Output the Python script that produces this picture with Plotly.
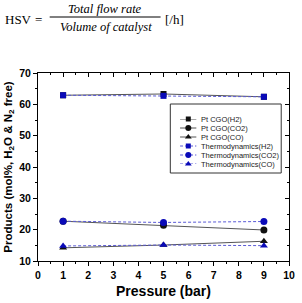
import plotly.graph_objects as go

# ---- data ----
pressure = [1, 5, 9]
pt_h2 = [62.9, 63.3, 62.4]
pt_co2 = [22.7, 21.4, 19.9]
pt_co = [14.2, 15.1, 16.3]
th_h2 = [62.9, 62.7, 62.4]
th_co2 = [22.7, 22.3, 22.6]
th_co = [14.8, 15.1, 14.9]

series_names = ["Pt CGO(H2)", "Pt CGO(CO2)", "Pt CGO(CO)",
                "Thermodynamics(H2)", "Thermodynamics(CO2)", "Thermodynamics(CO)"]
x_ticks = list(range(0, 11))
y_ticks = list(range(10, 71, 10))

W, H = 302, 303
ML, MR, MT, MB = 37, 7, 73, 42
PW, PH = W - ML - MR, H - MT - MB

def px(x):
    return (x - ML) / PW

def py(y):
    return (H - MB - y) / PH

PT_LINE = "#555555"
PT_MARK = "#111111"
TH_LINE = "#5a5ad6"
TH_MARK = "#0a0ab8"

styles = [
    dict(line=dict(color=PT_LINE, width=1), marker=dict(symbol="square", size=6, color=PT_MARK)),
    dict(line=dict(color=PT_LINE, width=1), marker=dict(symbol="circle", size=7, color=PT_MARK)),
    dict(line=dict(color=PT_LINE, width=1), marker=dict(symbol="triangle-up", size=7, color=PT_MARK)),
    dict(line=dict(color=TH_LINE, width=1, dash="3px,2px"), marker=dict(symbol="square", size=6, color=TH_MARK)),
    dict(line=dict(color=TH_LINE, width=1, dash="3px,2px"), marker=dict(symbol="circle", size=7, color=TH_MARK)),
    dict(line=dict(color=TH_LINE, width=1, dash="3px,2px"), marker=dict(symbol="triangle-up", size=7, color=TH_MARK)),
]
values = [pt_h2, pt_co2, pt_co, th_h2, th_co2, th_co]

fig = go.Figure()
for name, vals, st in zip(series_names, values, styles):
    fig.add_trace(go.Scatter(x=pressure, y=vals, mode="lines+markers", name=name,
                             line=st["line"], marker=st["marker"], showlegend=False))

# ---- custom compact legend (separate hidden axes) ----
LEG_L, LEG_R, LEG_T, LEG_B = 173, 287, 104, 173
ROW0, ROW_STEP = 119, 9
SAMPLE_L, SAMPLE_R, TEXT_L = 183, 200, 202
for i, (name, st) in enumerate(zip(series_names, styles)):
    fig.add_trace(go.Scatter(x=[0.0, 0.5, 1.0], y=[i, i, i], mode="lines",
                             line=st["line"], xaxis="x3", yaxis="y3", cliponaxis=False,
                             showlegend=False, hoverinfo="skip"))
    fig.add_trace(go.Scatter(x=[0.5], y=[i], mode="markers", cliponaxis=False,
                             marker=dict(symbol=st["marker"]["symbol"], size=st["marker"]["size"] - 1,
                                         color=st["marker"]["color"]),
                             xaxis="x3", yaxis="y3", showlegend=False, hoverinfo="skip"))
    fig.add_annotation(x=px(TEXT_L), y=py(ROW0 + i * ROW_STEP), xref="paper", yref="paper",
                       text=name, showarrow=False, xanchor="left", yanchor="middle",
                       font=dict(family="Liberation Sans, Arial", size=7.5, color="#222"))

fig.add_shape(type="rect", xref="paper", yref="paper",
              x0=px(LEG_L), x1=px(LEG_R), y0=py(LEG_B), y1=py(LEG_T),
              line=dict(color="#333", width=1), fillcolor="rgba(0,0,0,0)")

axis_font = dict(family="Liberation Sans, Arial", size=10.5, color="black", weight="bold")

fig.update_layout(
    width=W, height=H,
    margin=dict(l=ML, r=MR, t=MT, b=MB),
    paper_bgcolor="white", plot_bgcolor="white",
    xaxis=dict(range=[0, 10], tickvals=x_ticks, ticks="outside", ticklen=4, tickwidth=1,
               tickcolor="black", showline=True, linecolor="black", linewidth=1,
               showgrid=False, zeroline=False, tickfont=axis_font,
               minor=dict(dtick=0.5, ticks="outside", ticklen=2, tickcolor="black"),
               title=dict(text="<b>Pressure (bar)</b>", font=dict(family="Liberation Sans, Arial", size=14, color="black"),
                          standoff=6)),
    yaxis=dict(range=[10, 70], tickvals=y_ticks, ticks="outside", ticklen=4, tickwidth=1,
               tickcolor="black", showline=True, linecolor="black", linewidth=1,
               showgrid=False, zeroline=False, tickfont=axis_font,
               minor=dict(dtick=5, ticks="outside", ticklen=2, tickcolor="black"),
               title=dict(text="<b>Products (mol%, H<sub>2</sub>O & N<sub>2</sub> free)</b>",
                          font=dict(family="Liberation Sans, Arial", size=11.5, color="black"),
                          standoff=4)),
    xaxis2=dict(overlaying="x", anchor="y", side="top", range=[0, 10], tickvals=x_ticks,
                ticks="inside", ticklen=4, tickcolor="black", showticklabels=False,
                showline=True, linecolor="black", linewidth=1, showgrid=False, zeroline=False,
                minor=dict(dtick=0.5, ticks="inside", ticklen=2, tickcolor="black")),
    yaxis2=dict(overlaying="y", anchor="x", side="right", range=[10, 70], tickvals=y_ticks,
                ticks="inside", ticklen=4, tickcolor="black", showticklabels=False,
                showline=True, linecolor="black", linewidth=1, showgrid=False, zeroline=False,
                minor=dict(dtick=5, ticks="inside", ticklen=2, tickcolor="black")),
    xaxis3=dict(domain=[px(SAMPLE_L), px(SAMPLE_R)], range=[0, 1], anchor="y3",
                visible=False, fixedrange=True),
    yaxis3=dict(domain=[py(ROW0 + 5 * ROW_STEP), py(ROW0)], range=[5, 0], anchor="x3",
                visible=False, fixedrange=True),
)
fig.add_trace(go.Scatter(x=[None], y=[None], xaxis="x2", yaxis="y2", showlegend=False, hoverinfo="skip"))

# ---- HSV formula header ----
serif = "Liberation Serif, Times New Roman, serif"
fig.add_annotation(x=px(1), y=py(19), xref="paper", yref="paper", text="HSV", showarrow=False,
                   xanchor="left", yanchor="middle", font=dict(family=serif, size=13, color="black"))
fig.add_annotation(x=px(37), y=py(19), xref="paper", yref="paper", text="=", showarrow=False,
                   xanchor="center", yanchor="middle", font=dict(family=serif, size=13, color="black"))
fig.add_annotation(x=px(106), y=py(9), xref="paper", yref="paper", text="<i>Total flow rate</i>",
                   showarrow=False, xanchor="center", yanchor="middle",
                   font=dict(family=serif, size=12.5, color="black"))
fig.add_annotation(x=px(107), y=py(27), xref="paper", yref="paper", text="<i>Volume of catalyst</i>",
                   showarrow=False, xanchor="center", yanchor="middle",
                   font=dict(family=serif, size=12.5, color="black"))
fig.add_shape(type="line", xref="paper", yref="paper", x0=px(49), x1=px(163), y0=py(17), y1=py(17),
              line=dict(color="black", width=1))
fig.add_annotation(x=px(165), y=py(19), xref="paper", yref="paper", text="[/h]", showarrow=False,
                   xanchor="left", yanchor="middle", font=dict(family=serif, size=13, color="black"))

fig.write_html("out.html")
